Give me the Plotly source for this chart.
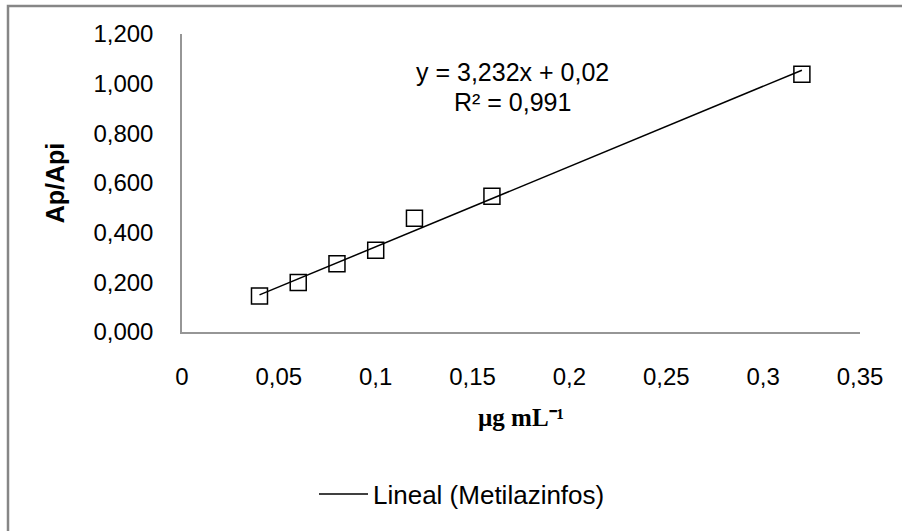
import plotly.graph_objects as go

# Data
conc = [0.04, 0.06, 0.08, 0.10, 0.12, 0.16, 0.32]
ratio = [0.145, 0.199, 0.275, 0.329, 0.458, 0.547, 1.038]
slope = 3.232
intercept = 0.02
x_ticks = [0, 0.05, 0.1, 0.15, 0.2, 0.25, 0.3, 0.35]
x_tick_labels = ["0", "0,05", "0,1", "0,15", "0,2", "0,25", "0,3", "0,35"]
y_ticks = [0, 0.2, 0.4, 0.6, 0.8, 1.0, 1.2]
y_tick_labels = ["0,000", "0,200", "0,400", "0,600", "0,800", "1,000", "1,200"]
eq_line1 = "y = 3,232x + 0,02"
eq_line2 = "R² = 0,991"

trend_x = [min(conc), max(conc)]
trend_y = [slope * v + intercept for v in trend_x]

FONT = "Liberation Sans, Arial, sans-serif"
AXIS_COLOR = "#969696"
BORDER_COLOR = "#868686"
FS = 24

fig = go.Figure()
fig.add_trace(go.Scatter(
    x=conc, y=ratio, mode="markers", name="Metilazinfos", showlegend=False,
    marker=dict(symbol="square-open", size=16, color="black", line=dict(width=1.5, color="black")),
))
fig.add_trace(go.Scatter(
    x=trend_x, y=trend_y, mode="lines", name="Lineal (Metilazinfos)",
    line=dict(color="black", width=1.5),
))

L, R, T, B = 182, 860, 34, 332
W, H = 902, 531

def px_x(p):
    return (p - L) / (R - L)

def px_y(p):
    return (B - p) / (B - T)

fig.update_layout(
    width=W, height=H,
    margin=dict(l=L, r=W - R, t=T, b=H - B, autoexpand=False),
    paper_bgcolor="white", plot_bgcolor="white",
    font=dict(family=FONT, size=FS, color="black"),
    xaxis=dict(range=[0, 0.35], tickvals=x_ticks, ticktext=x_tick_labels,
               showgrid=False, zeroline=False, showline=True, linecolor=AXIS_COLOR, linewidth=1.5,
               ticks="", ticklabelstandoff=22,
               title=dict(text="<b>µg mL⁻¹</b>",
                          font=dict(family="Liberation Serif, Times New Roman, serif", size=25),
                          standoff=20)),
    yaxis=dict(range=[0, 1.2], tickvals=y_ticks, ticktext=y_tick_labels,
               showgrid=False, zeroline=False, showline=True, linecolor=AXIS_COLOR, linewidth=1.5,
               ticks="", ticklabelstandoff=22,
               title=dict(text="<b>Ap/Api</b>", font=dict(size=25), standoff=22)),
    legend=dict(orientation="h", x=px_x(314), y=px_y(494), xanchor="left", yanchor="middle",
                font=dict(size=26), bgcolor="rgba(0,0,0,0)", itemwidth=49),
    showlegend=True,
)

fig.add_annotation(x=px_x(512), y=px_y(72), xref="paper", yref="paper", showarrow=False,
                   text=eq_line1, xanchor="center", yanchor="middle", font=dict(size=25))
fig.add_annotation(x=px_x(512), y=px_y(102), xref="paper", yref="paper", showarrow=False,
                   text=eq_line2, xanchor="center", yanchor="middle", font=dict(size=25))

fig.add_shape(type="rect", xref="paper", yref="paper",
              x0=px_x(8), x1=px_x(930), y0=px_y(560), y1=px_y(6),
              line=dict(color=BORDER_COLOR, width=2.5), layer="below")

fig.write_html("out.html", config={"displayModeBar": False},
               post_script="document.body.style.margin='0';")
